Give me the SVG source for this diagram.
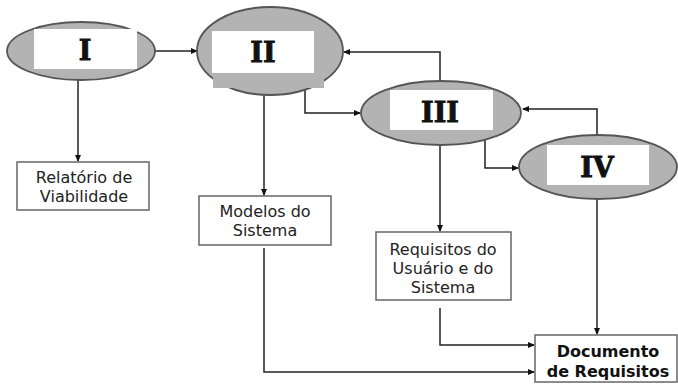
<svg xmlns="http://www.w3.org/2000/svg" width="678" height="385" viewBox="0 0 678 385">
<defs>
<marker id="ah" markerWidth="7" markerHeight="6" refX="6" refY="3" orient="auto" markerUnits="userSpaceOnUse">
<path d="M0,0 L7,3 L0,6 Z" fill="#111"/>
</marker>
<style>
.ell{fill:#b3b3b3;stroke:#555;stroke-width:1.8}
.win{fill:#fff;stroke:none}
.gr{fill:#b3b3b3;stroke:none}
.num{font-family:"DejaVu Serif",serif;font-weight:bold;font-size:27px;fill:#111;stroke:#111;stroke-width:0.9;text-anchor:middle}
.box{fill:#fff;stroke:#666;stroke-width:1.5}
.lbl{font-family:"DejaVu Sans",Verdana,sans-serif;font-size:16px;fill:#222;text-anchor:middle}
.blbl{font-family:"DejaVu Sans",Verdana,sans-serif;font-size:16px;font-weight:bold;fill:#111;text-anchor:middle}
.con{fill:none;stroke:#222;stroke-width:1.5;marker-end:url(#ah)}
</style>
</defs>
<rect width="678" height="385" fill="#fff"/>
<g id="connectors">
<path class="con" d="M155,51 H197"/>
<path class="con" d="M78,80 V161"/>
<path class="con" d="M264,88 V195"/>
<path class="con" d="M305,88 V113 H360"/>
<path class="con" d="M440,82 V52 H344"/>
<path class="con" d="M485,140 V168 H518"/>
<path class="con" d="M597,135 V109 H523"/>
<path class="con" d="M440,145 V231"/>
<path class="con" d="M597,199 V334"/>
<path class="con" d="M440,308 V345 H534"/>
<path class="con" d="M264,248 V372 H534"/>
</g>
<g id="node-I">
<ellipse class="ell" cx="81" cy="51" rx="74" ry="29"/>
<rect class="win" x="34" y="29" width="103" height="40"/>
<text class="num" x="85" y="60">I</text>
</g>
<g id="node-II">
<ellipse class="ell" cx="270" cy="51" rx="73" ry="44"/>
<rect class="gr" x="213" y="72" width="111" height="16"/>
<rect class="win" x="212" y="31" width="102" height="42"/>
<text class="num" x="263" y="62">II</text>
</g>
<g id="node-III">
<ellipse class="ell" cx="441" cy="113" rx="80" ry="32"/>
<rect class="win" x="390" y="90" width="103" height="40"/>
<text class="num" x="440" y="122">III</text>
</g>
<g id="node-IV">
<ellipse class="ell" cx="598" cy="167" rx="79" ry="32"/>
<rect class="win" x="547" y="145" width="102" height="40"/>
<text class="num" x="597" y="177">IV</text>
</g>
<g id="node-relatorio">
<rect class="box" x="17" y="162" width="132" height="48"/>
<text class="lbl" x="84" y="183">Relatório de</text>
<text class="lbl" x="84" y="202">Viabilidade</text>
</g>
<g id="node-modelos">
<rect class="box" x="199" y="196" width="132" height="49"/>
<text class="lbl" x="265" y="217">Modelos do</text>
<text class="lbl" x="265" y="236">Sistema</text>
</g>
<g id="node-requisitos">
<rect class="box" x="376" y="232" width="135" height="68"/>
<text class="lbl" x="443" y="255">Requisitos do</text>
<text class="lbl" x="443" y="274">Usuário e do</text>
<text class="lbl" x="443" y="293">Sistema</text>
</g>
<g id="node-documento">
<rect class="box" x="535" y="335" width="142" height="47"/>
<text class="blbl" x="608" y="357">Documento</text>
<text class="blbl" x="608" y="377">de Requisitos</text>
</g>
</svg>
